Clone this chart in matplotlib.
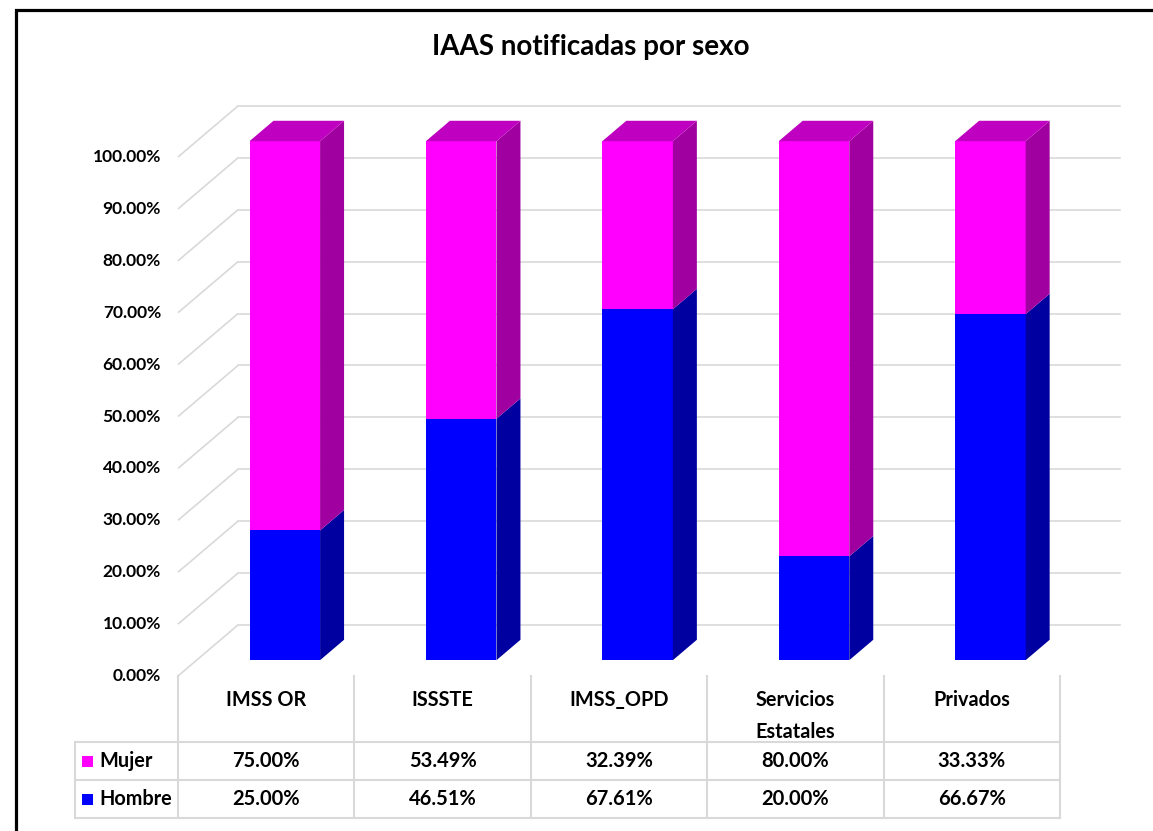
"""IAAS notificadas por sexo: 3D-style stacked percentage bars with data table."""

import matplotlib
matplotlib.use('Agg')
import matplotlib.pyplot as plt
from matplotlib.patches import Polygon, Rectangle

categories = ['IMSS OR', 'ISSSTE', 'IMSS_OPD', 'Servicios\nEstatales', 'Privados']
mujer = [75.00, 53.49, 32.39, 80.00, 33.33]
hombre = [25.00, 46.51, 67.61, 20.00, 66.67]
series_names = ['Hombre', 'Mujer']
y_ticks = [0, 10, 20, 30, 40, 50, 60, 70, 80, 90, 100]
title = 'IAAS notificadas por sexo'

# face colours: front, side, top
COLORS = {
    'Mujer': ('#FF00FF', '#A000A0', '#C000C0'),
    'Hombre': ('#0000FF', '#0000A0', '#0000C0'),
}
GRID = '#D9D9D9'

# oblique projection, expressed in (category, percent) units
DX, DY = 0.34, 9.83      # full floor depth
D0, D1 = 0.31, 0.71      # bar depth span as fraction of floor depth
BAR_W = 0.40

plt.rcParams['font.family'] = ['Lato', 'DejaVu Sans']
plt.rcParams['font.weight'] = 'bold'

W_PX, H_PX = 1153, 831
fig = plt.figure(figsize=(W_PX / 100, H_PX / 100), dpi=100)
ax = fig.add_axes([0, 0, 1, 1])
# pixel scale: one category = 176.4 px, one percent = 5.19 px
X0, SX = 178, 176.4
Y0, SY = 676, 5.19
ax.set_xlim(-X0 / SX, (W_PX - X0) / SX)
ax.set_ylim((Y0 - H_PX) / SY, Y0 / SY)
ax.axis('off')


def dy_px(py):
    """Pixel row -> percent units (for table layout)."""
    return (Y0 - py) / SY


def dx_px(px):
    return (px - X0) / SX


n = len(categories)

# walls: side-wall diagonals + back-wall horizontals
for v in y_ticks:
    ax.plot([0, DX], [v, v + DY], color=GRID, lw=1.2, zorder=1, solid_capstyle='butt')
    ax.plot([DX, n + DX], [v + DY, v + DY], color=GRID, lw=1.2, zorder=1)
    ax.text(dx_px(161), v, f'{v:.2f}%', ha='right', va='center', fontsize=12.5)

# bars
ox0, oy0 = D0 * DX, D0 * DY
ddx, ddy = (D1 - D0) * DX, (D1 - D0) * DY
for i in range(n):
    xl = i + 0.5 - BAR_W / 2 + ox0
    xr = xl + BAR_W
    bottom = 0.0
    for name, vals in zip(series_names, [hombre, mujer]):
        front, side, top = COLORS[name]
        t = bottom + vals[i]
        ax.add_patch(Rectangle((xl, bottom + oy0), BAR_W, vals[i],
                               facecolor=front, edgecolor='none', zorder=3))
        ax.add_patch(Polygon([(xr, bottom + oy0), (xr + ddx, bottom + oy0 + ddy),
                              (xr + ddx, t + oy0 + ddy), (xr, t + oy0)],
                             closed=True, facecolor=side, edgecolor='none', zorder=3))
        if name == series_names[-1]:
            ax.add_patch(Polygon([(xl, t + oy0), (xr, t + oy0),
                                  (xr + ddx, t + oy0 + ddy), (xl + ddx, t + oy0 + ddy)],
                                 closed=True, facecolor=top, edgecolor='none', zorder=3))
        bottom = t

# data table
y_head, y_r1, y_r2 = dy_px(742), dy_px(780), dy_px(818)
x_leg = dx_px(75)
for k in range(n + 1):
    ax.plot([k, k], [0, y_r2], color=GRID, lw=1.5, zorder=1)
for yy in (y_head, y_r1, y_r2):
    ax.plot([x_leg, n], [yy, yy], color=GRID, lw=1.5, zorder=1)
ax.plot([x_leg, x_leg], [y_head, y_r2], color=GRID, lw=1.5, zorder=1)

for i, cat in enumerate(categories):
    ax.text(i + 0.5, dy_px(690), cat, ha='center', va='top', fontsize=14.3,
            linespacing=1.75)

rows = [('Mujer', mujer, (y_head + y_r1) / 2), ('Hombre', hombre, (y_r1 + y_r2) / 2)]
for name, vals, yc in rows:
    ax.add_patch(Rectangle((dx_px(82), yc - 5.5 / SY), 11 / SX, 11 / SY,
                           facecolor=COLORS[name][0], edgecolor='none', zorder=3))
    ax.text(dx_px(99), yc, name, ha='left', va='center', fontsize=14.3)
    for i, v in enumerate(vals):
        ax.text(i + 0.5, yc, f'{v:.2f}%', ha='center', va='center', fontsize=14.5)

fig.text(591 / W_PX, 1 - 47 / H_PX, title, ha='center', va='center', fontsize=20)

# chart frame (only top/left edges visible in the crop)
fig.patches.append(Rectangle((16 / W_PX, -0.2), 2, 1.2 - 9.5 / H_PX,
                             transform=fig.transFigure, fill=False,
                             edgecolor='black', lw=2.3))

fig.savefig('out.png', dpi=100)
